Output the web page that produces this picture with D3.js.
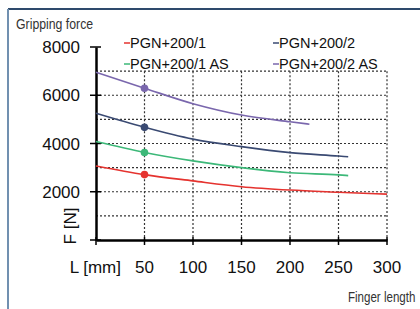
<!DOCTYPE html>
<html>
<head>
<meta charset="utf-8">
<script src="https://cdn.jsdelivr.net/npm/d3@7"></script>
<style>
body { margin: 0; background: #fff; }
svg { display: block; }
</style>
</head>
<body>
<div id="chart"></div>
<script>
// values
var seriesNames = ["PGN+200/1", "PGN+200/2", "PGN+200/1 AS", "PGN+200/2 AS"];
var seriesColors = ["#e5332f", "#3a4a72", "#3cb878", "#7a67ad"];

var red_L = [0, 50, 100, 150, 200, 250, 300];
var red_F = [3070, 2710, 2450, 2210, 2070, 1980, 1900];

var navy_L = [0, 50, 100, 150, 200, 250, 260];
var navy_F = [5250, 4670, 4180, 3870, 3620, 3480, 3450];

var green_L = [0, 50, 100, 150, 200, 250, 260];
var green_F = [4080, 3630, 3280, 3000, 2790, 2700, 2670];

var purple_L = [0, 50, 100, 150, 200, 220];
var purple_F = [6950, 6290, 5650, 5180, 4900, 4800];

var markerL = 50;
var xTicks = [50, 100, 150, 200, 250, 300];
var yTicks = [2000, 4000, 6000, 8000];
var yGrid = [1000, 2000, 3000, 4000, 5000, 6000, 7000];

function init() {
    var w = 420;
    var h = 309;

    var svg = d3.select("#chart")
                .append("svg")
                .attr("width", w)
                .attr("height", h);

    // frame lines
    svg.append("line").attr("x1", 8).attr("y1", 9).attr("x2", w).attr("y2", 9)
        .attr("stroke", "#2e4a6c").attr("stroke-width", 2);
    svg.append("line").attr("x1", 8).attr("y1", 9).attr("x2", 8).attr("y2", h)
        .attr("stroke", "#7190b0").attr("stroke-width", 2);

    var x = d3.scaleLinear().domain([0, 300]).range([96, 387]);
    var y = d3.scaleLinear().domain([0, 8000]).range([240, 47]);

    // grid
    svg.selectAll(".hgrid")
        .data(yGrid)
        .enter()
        .append("line")
        .attr("x1", x(0)).attr("x2", x(300))
        .attr("y1", function(d) { return y(d); })
        .attr("y2", function(d) { return y(d); })
        .attr("stroke", "#333").attr("stroke-width", 1.2)
        .attr("stroke-dasharray", "2,2");
    svg.selectAll(".vgrid")
        .data(xTicks)
        .enter()
        .append("line")
        .attr("x1", function(d) { return x(d); })
        .attr("x2", function(d) { return x(d); })
        .attr("y1", y(7000)).attr("y2", y(0))
        .attr("stroke", "#333").attr("stroke-width", 1.2)
        .attr("stroke-dasharray", "2,2");

    // axes
    var xAxis = d3.axisBottom(x).tickValues([0].concat(xTicks)).tickSize(0).tickFormat("");
    svg.append("g").attr("transform", "translate(0," + y(0) + ")").call(xAxis)
        .select(".domain").attr("stroke", "#000").attr("stroke-width", 2.5);
    svg.selectAll(".xt")
        .data([0].concat(xTicks))
        .enter()
        .append("line")
        .attr("x1", function(d) { return x(d); })
        .attr("x2", function(d) { return x(d); })
        .attr("y1", y(0) - 3).attr("y2", y(0) + 5)
        .attr("stroke", "#000").attr("stroke-width", 1.5);

    var yAxis = d3.axisLeft(y).tickValues([0].concat(yTicks)).tickSize(0).tickFormat("");
    svg.append("g").attr("transform", "translate(" + x(0) + ",0)").call(yAxis)
        .select(".domain").attr("stroke", "#000").attr("stroke-width", 2.5);
    svg.selectAll(".yt")
        .data([0].concat(yTicks))
        .enter()
        .append("line")
        .attr("x1", x(0) - 6).attr("x2", x(0) + 5)
        .attr("y1", function(d) { return y(d); })
        .attr("y2", function(d) { return y(d); })
        .attr("stroke", "#000").attr("stroke-width", 1.5);

    // tick labels
    svg.selectAll(".ylab")
        .data(yTicks)
        .enter()
        .append("text")
        .text(function(d) { return d; })
        .attr("x", 80)
        .attr("y", function(d) { return y(d) + 6; })
        .attr("text-anchor", "end")
        .attr("font-family", "Liberation Sans, Arial, sans-serif")
        .attr("font-size", 17)
        .attr("fill", "#111");
    svg.selectAll(".xlab")
        .data(xTicks)
        .enter()
        .append("text")
        .text(function(d) { return d; })
        .attr("x", function(d) { return x(d); })
        .attr("y", 273)
        .attr("text-anchor", "middle")
        .attr("font-family", "Liberation Sans, Arial, sans-serif")
        .attr("font-size", 17)
        .attr("fill", "#111");
    svg.append("text").text("L [mm]")
        .attr("x", 121).attr("y", 273).attr("text-anchor", "end")
        .attr("font-family", "Liberation Sans, Arial, sans-serif")
        .attr("font-size", 17).attr("fill", "#111");
    svg.append("text").text("F [N]")
        .attr("transform", "translate(76,226) rotate(-90)")
        .attr("text-anchor", "middle")
        .attr("font-family", "Liberation Sans, Arial, sans-serif")
        .attr("font-size", 17).attr("fill", "#111");

    // condensed captions, squeezed horizontally like the reference font
    svg.append("text").text("Gripping force")
        .attr("transform", "translate(16,29) scale(0.82,1)")
        .attr("font-family", "Liberation Sans, Arial, sans-serif")
        .attr("font-size", 15).attr("fill", "#333");
    svg.append("text").text("Finger length")
        .attr("transform", "translate(348,302) scale(0.77,1)")
        .attr("font-family", "Liberation Sans, Arial, sans-serif")
        .attr("font-size", 15).attr("fill", "#333");

    // curves
    var series = [
        { L: red_L, F: red_F },
        { L: navy_L, F: navy_F },
        { L: green_L, F: green_F },
        { L: purple_L, F: purple_F }
    ];
    var line = d3.line()
        .x(function(d) { return x(d[0]); })
        .y(function(d) { return y(d[1]); })
        .curve(d3.curveMonotoneX);

    series.forEach(function(s, i) {
        var pts = d3.zip(s.L, s.F);
        svg.append("path")
            .attr("d", line(pts))
            .attr("fill", "none")
            .attr("stroke", seriesColors[i])
            .attr("stroke-width", 1.6);
        var m = pts.filter(function(p) { return p[0] === markerL; })[0];
        svg.append("circle")
            .attr("cx", x(m[0])).attr("cy", y(m[1])).attr("r", 3.8)
            .attr("fill", seriesColors[i]);
    });

    // legend (two columns)
    var legX = [124, 273];
    var legY = [48, 69];
    seriesNames.forEach(function(name, i) {
        var col = i % 2, row = Math.floor(i / 2);
        var g = svg.append("g").attr("transform", "translate(" + legX[col] + "," + legY[row] + ")");
        g.append("line").attr("x1", 0).attr("x2", 6).attr("y1", -5).attr("y2", -5)
            .attr("stroke", seriesColors[i]).attr("stroke-width", 1.5);
        g.append("text").text(name).attr("x", 6)
            .attr("font-family", "Liberation Sans, Arial, sans-serif")
            .attr("font-size", 14.5).attr("fill", "#111");
    });
}

window.onload = init;
</script>
</body>
</html>
